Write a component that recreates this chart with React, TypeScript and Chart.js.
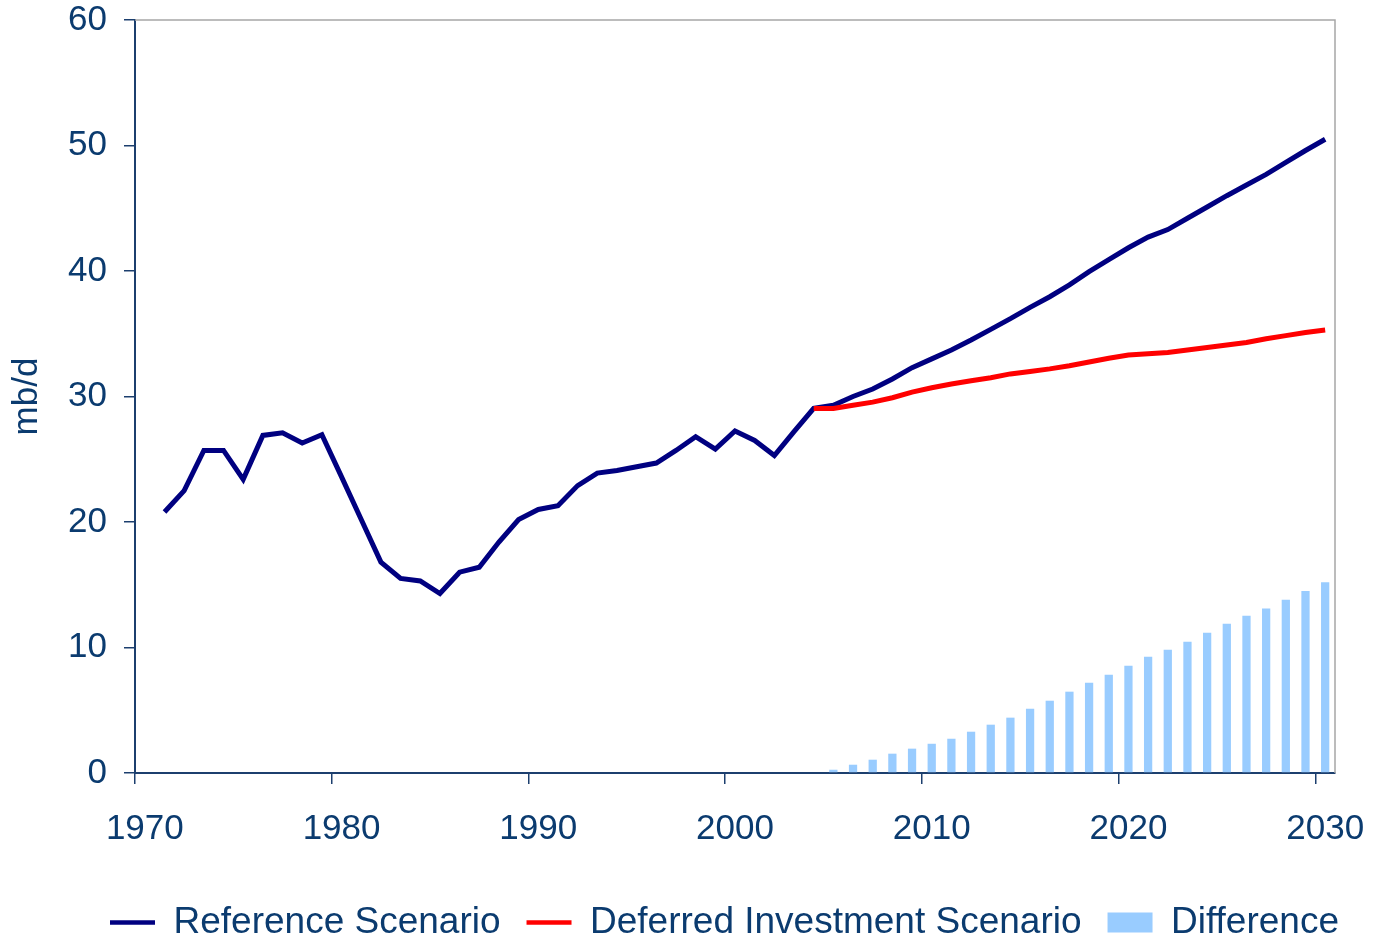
import React, { useEffect, useRef } from "react";
import { Chart, registerables } from "chart.js";

Chart.register(...registerables);

// Categories (years)
const years: string[] = [
  "1970", "1971", "1972", "1973", "1974", "1975", "1976", "1977", "1978", "1979",
  "1980", "1981", "1982", "1983", "1984", "1985", "1986", "1987", "1988", "1989",
  "1990", "1991", "1992", "1993", "1994", "1995", "1996", "1997", "1998", "1999",
  "2000", "2001", "2002", "2003", "2004", "2005", "2006", "2007", "2008", "2009",
  "2010", "2011", "2012", "2013", "2014", "2015", "2016", "2017", "2018", "2019",
  "2020", "2021", "2022", "2023", "2024", "2025", "2026", "2027", "2028", "2029",
  "2030",
];

// Reference Scenario, 1971-2030 (mb/d)
const referenceStart = 1971;
const referenceValues: number[] = [
  20.8, 22.5, 25.7, 25.7, 23.4, 26.9, 27.1, 26.3, 26.95, 23.6,
  20.2, 16.8, 15.5, 15.3, 14.3, 16.0, 16.4, 18.4, 20.2, 21.0,
  21.3, 22.9, 23.9, 24.1, 24.4, 24.7, 25.7, 26.8, 25.8, 27.25,
  26.5, 25.3, 27.2, 29.05, 29.3, 30.0, 30.6, 31.4, 32.3, 33.0,
  33.7, 34.5, 35.35, 36.2, 37.1, 37.95, 38.9, 39.95, 40.9, 41.85,
  42.7, 43.3, 44.2, 45.1, 46.0, 46.85, 47.7, 48.65, 49.6, 50.5,
];

// Deferred Investment Scenario, 2004-2030 (mb/d)
const deferredStart = 2004;
const deferredValues: number[] = [
  29.05, 29.05, 29.3, 29.55, 29.9, 30.35, 30.7, 31.0, 31.25, 31.5,
  31.8, 32.0, 32.2, 32.45, 32.75, 33.05, 33.3, 33.4, 33.5, 33.7,
  33.9, 34.1, 34.3, 34.6, 34.85, 35.1, 35.3,
];

// Difference, 2005-2030 (mb/d)
const differenceStart = 2005;
const differenceValues: number[] = [
  0.26, 0.66, 1.06, 1.54, 1.94, 2.33, 2.73, 3.29, 3.85, 4.41,
  5.12, 5.76, 6.48, 7.2, 7.83, 8.55, 9.27, 9.82, 10.46, 11.18,
  11.9, 12.53, 13.1, 13.8, 14.5, 15.2,
];

const yTicks: number[] = [0, 10, 20, 30, 40, 50, 60];

const TEXT = "#0b3b6f";
const AXIS = "#1c3f6e";
const FONT = "'Liberation Sans', Arial, Helvetica, sans-serif";

const alignToYears = (start: number, values: number[]) =>
  years.map((y) => {
    const i = Number(y) - start;
    return i >= 0 && i < values.length ? values[i] : null;
  });

const framePlugin = {
  id: "frameTopRight",
  beforeDatasetsDraw(chart: any) {
    const { ctx, chartArea } = chart;
    const { left, top, right, bottom } = chartArea;
    ctx.save();
    ctx.strokeStyle = "#a6a6a6";
    ctx.lineWidth = 1.5;
    ctx.beginPath();
    ctx.moveTo(left, top);
    ctx.lineTo(right, top);
    ctx.lineTo(right, bottom);
    ctx.stroke();
    ctx.restore();
  },
};

const legendShiftPlugin = {
  id: "legendShift",
  afterLayout(chart: any) {
    const lg = chart.legend;
    if (!lg || !lg.lineWidths) return;
    const P = lg.options.labels.padding;
    const start = (lg.left + P + lg.right - lg.lineWidths[0]) / 2;
    const dx = 110 - start;
    lg.left += dx;
    lg.right += dx;
  },
};

export default function App() {
  const canvasRef = useRef<HTMLCanvasElement | null>(null);

  useEffect(() => {
    document.body.style.margin = "0";
    const canvas = canvasRef.current;
    if (!canvas) return;

    const chart = new Chart(canvas, {
      type: "line",
      data: {
        labels: years,
        datasets: [
          {
            type: "line",
            label: "Reference Scenario",
            data: alignToYears(referenceStart, referenceValues),
            borderColor: "#000080",
            backgroundColor: "#000080",
            borderWidth: 5,
            pointRadius: 0,
            tension: 0,
            fill: false,
            order: 2,
          },
          {
            type: "line",
            label: "Deferred Investment Scenario",
            data: alignToYears(deferredStart, deferredValues),
            borderColor: "#ff0000",
            backgroundColor: "#ff0000",
            borderWidth: 5,
            pointRadius: 0,
            tension: 0,
            fill: false,
            order: 1,
          },
          {
            type: "bar",
            label: "Difference",
            data: alignToYears(differenceStart, differenceValues),
            backgroundColor: "#99ccff",
            borderWidth: 0,
            barPercentage: 0.42,
            categoryPercentage: 1,
            order: 3,
          },
        ] as any,
      },
      options: {
        responsive: false,
        animation: false,
        events: [],
        layout: { padding: { top: 0, left: 0, right: 44, bottom: -13 } },
        font: { family: FONT },
        scales: {
          x: {
            type: "category",
            offset: true,
            afterFit: (scale: any) => {
              scale.paddingLeft = 0;
              scale.paddingRight = 0;
              scale.height += 4;
            },
            grid: {
              offset: true,
              drawOnChartArea: false,
              tickLength: 11,
              lineWidth: 1.5,
              tickColor: (ctx: any) =>
                typeof ctx.index === "number" && ctx.index % 10 === 0 ? AXIS : "rgba(0,0,0,0)",
            },
            border: { color: AXIS, width: 2 },
            ticks: {
              autoSkip: false,
              maxRotation: 0,
              minRotation: 0,
              color: TEXT,
              font: { family: FONT, size: 35 },
              padding: 24,
              callback: function (this: any, value: any) {
                const label = this.getLabelForValue(value);
                return Number(label) % 10 === 0 ? label : "";
              },
            },
          },
          y: {
            type: "linear",
            min: yTicks[0],
            max: yTicks[yTicks.length - 1],
            afterBuildTicks: (scale: any) => {
              scale.ticks = yTicks.map((v) => ({ value: v }));
            },
            afterFit: (scale: any) => {
              scale.width = 135;
              scale.paddingTop = 20;
              scale.paddingBottom = 0;
            },
            grid: {
              drawOnChartArea: false,
              tickLength: 11,
              color: AXIS,
              lineWidth: 1.5,
            },
            border: { color: AXIS, width: 2 },
            ticks: {
              color: TEXT,
              font: { family: FONT, size: 35 },
              padding: 17,
            },
            title: {
              display: true,
              text: "mb/d",
              color: TEXT,
              font: { family: FONT, size: 35 },
              padding: { top: 6, bottom: 0 },
            },
          },
        },
        plugins: {
          tooltip: { enabled: false },
          legend: {
            position: "bottom",
            labels: {
              color: TEXT,
              font: { family: FONT, size: 37 },
              usePointStyle: true,
              pointStyleWidth: 45,
              boxHeight: 20,
              padding: 26,
              generateLabels: (c: any) =>
                c.data.datasets.map((ds: any, i: number) => ({
                  text: ds.label,
                  fillStyle: ds.type === "bar" ? ds.backgroundColor : ds.borderColor,
                  strokeStyle: ds.type === "bar" ? ds.backgroundColor : ds.borderColor,
                  lineWidth: ds.type === "bar" ? 0 : 4.5,
                  pointStyle: ds.type === "bar" ? "rect" : "line",
                  fontColor: TEXT,
                  hidden: false,
                  datasetIndex: i,
                })),
            },
          },
        },
      } as any,
      plugins: [framePlugin, legendShiftPlugin],
    });

    return () => chart.destroy();
  }, []);

  return (
    <div style={{ width: 1379, height: 938, position: "relative" }}>
      <canvas ref={canvasRef} width={1379} height={938} />
    </div>
  );
}
